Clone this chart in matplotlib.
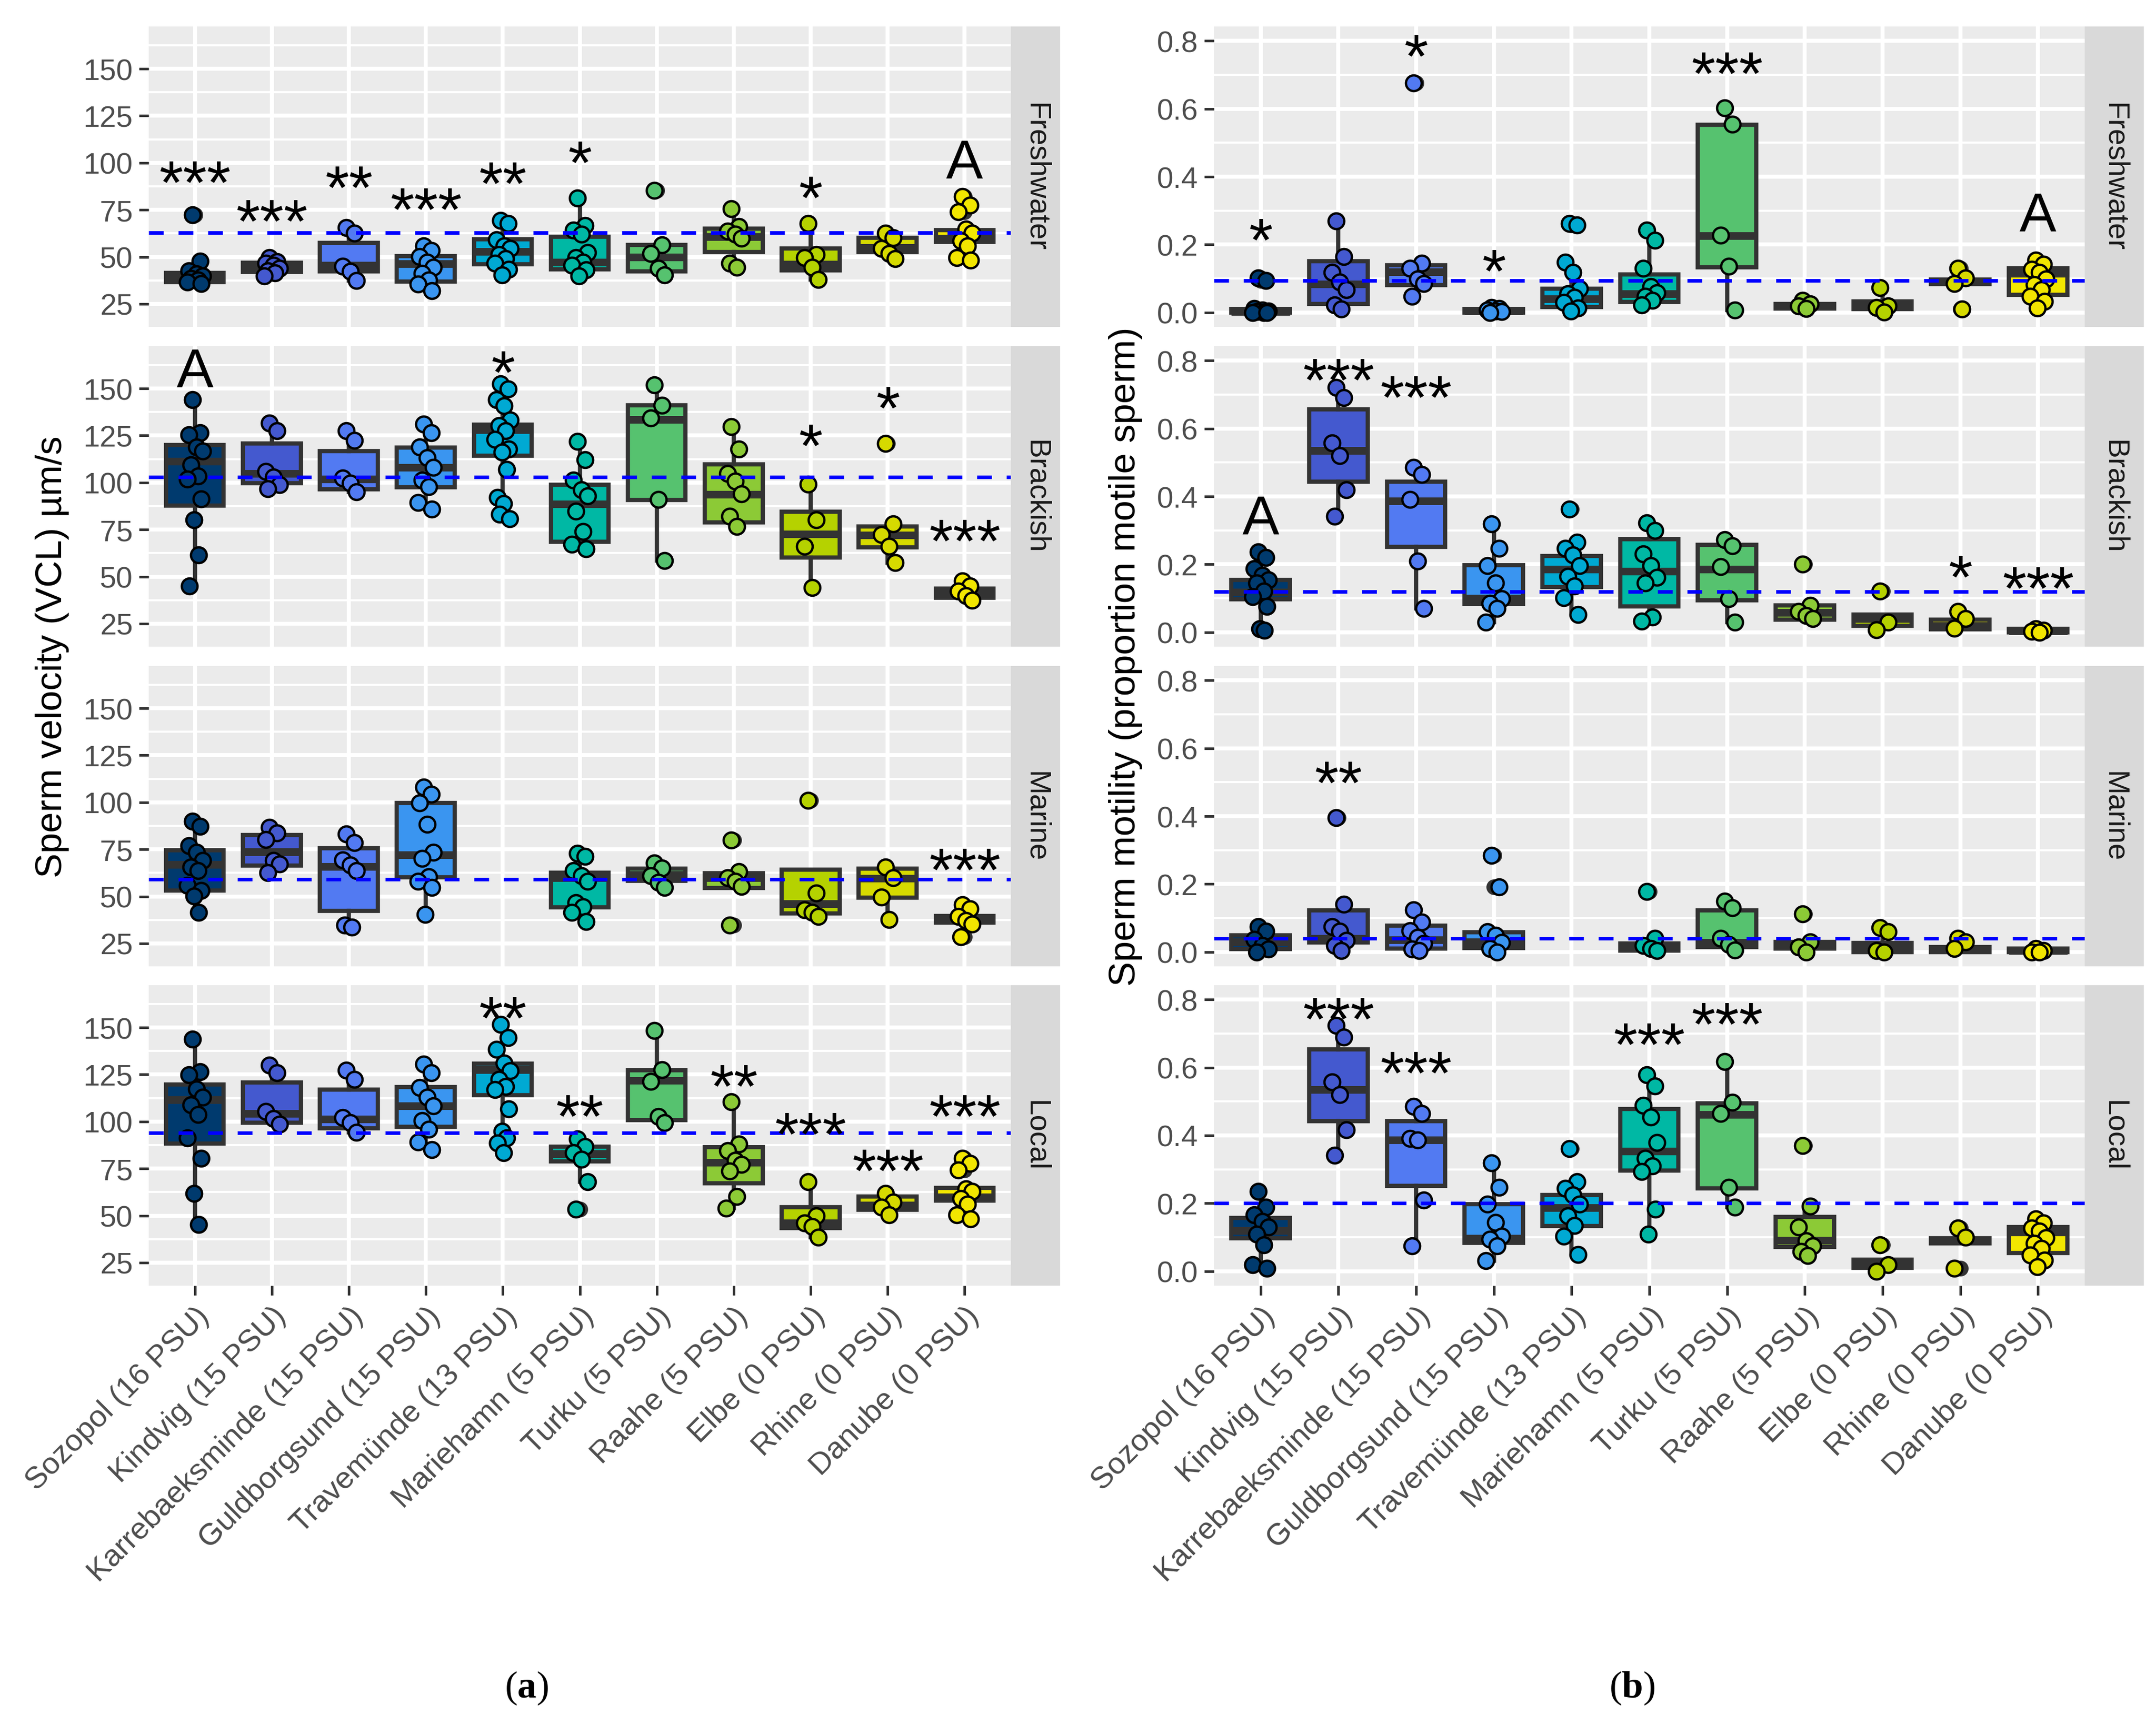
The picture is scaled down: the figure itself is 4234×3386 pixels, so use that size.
'''
Sperm velocity and motility per population, by test water (boxplots + points)
'''
import numpy as np
import matplotlib
matplotlib.use('Agg')
import matplotlib.pyplot as plt

plt.rcParams['font.family'] = ['Liberation Sans', 'DejaVu Sans']
plt.rcParams['mathtext.fontset'] = 'custom'
plt.rcParams['mathtext.rm'] = 'Liberation Serif'
plt.rcParams['mathtext.bf'] = 'Liberation Serif:bold'

populations = ['Sozopol (16 PSU)', 'Kindvig (15 PSU)', 'Karrebaeksminde (15 PSU)',
               'Guldborgsund (15 PSU)', 'Travemünde (13 PSU)', 'Mariehamn (5 PSU)',
               'Turku (5 PSU)', 'Raahe (5 PSU)', 'Elbe (0 PSU)', 'Rhine (0 PSU)',
               'Danube (0 PSU)']
water = ['Freshwater', 'Brackish', 'Marine', 'Local']
pop_colors = ['#003A6E', '#4459CF', '#527AF2', '#3A95F0', '#00A9D3', '#00B8A4',
              '#56C26F', '#8CCA36', '#B5D200', '#D6DA00', '#F2E600']

# ---- (a) sperm velocity: box stats (whislo, q1, med, q3, whishi) and points
vcl_fresh_box = [(35, 36.7, 38.5, 41.5, 48), (39.8, 42.1, 44.5, 46.8, 49.5),
                 (37.5, 42.3, 45.5, 57.4, 65.7), (31.9, 36.9, 46.4, 50.4, 55.8),
                 (40.4, 46.2, 52.9, 59.4, 69.4), (39.8, 43.5, 47.1, 60.8, 81.4),
                 (40.4, 42.3, 50, 56.3, 56.3), (44.5, 52.6, 60.8, 65.1, 75.7),
                 (38.1, 42.9, 46, 54.4, 67.7), (49, 52.6, 55, 60.1, 62.6),
                 (48.3, 58, 60, 64.3, 64.9)]
vcl_fresh_pts = [[72.3, 47.8, 42.7, 41, 39.8, 38.5, 37.6, 36.5, 35.9],
                 [49.5, 47.5, 46.7, 45.5, 43.8, 42.5, 41.5, 39.8],
                 [65.7, 62.6, 45, 42.3, 37.5],
                 [55.8, 53.5, 50.1, 47.3, 44.5, 41.1, 37.7, 35.5, 31.9],
                 [69.4, 67.7, 59.2, 55.8, 54.6, 51.2, 49, 46.7, 43.3, 40.4],
                 [81.4, 66.6, 64.3, 62, 52.4, 49.5, 47.2, 45.5, 43.2, 39.8],
                 [85.4, 56.3, 51.8, 43.8, 40.4],
                 [75.7, 66, 63.7, 62, 60, 46.7, 44.5],
                 [67.7, 51.2, 49.5, 44.5, 38.1],
                 [62.6, 60.3, 54.6, 51.8, 49],
                 [82, 77.4, 74, 64.9, 62.6, 58.6, 55.8, 49.5, 48.3]]
vcl_fresh_marks = [(0, '***', 97.3), (1, '***', 76.8), (2, '**', 94.5), (3, '***', 83),
                   (4, '**', 96.7), (5, '*', 108), (8, '*', 89.3), (10, 'A', 102.2)]

vcl_brack_box = [(45, 87.9, 111.4, 120.1, 144.1), (96.8, 99.6, 104.9, 120.8, 131.5),
                 (95, 96.4, 101.8, 116.8, 127.6), (86, 97.4, 108.2, 118.6, 131),
                 (80.8, 114.3, 128.1, 130.7, 152.6), (64.9, 68.5, 88.6, 98.8, 121.9),
                 (58.6, 90.7, 133.6, 141, 152), (76.8, 78.8, 93.7, 109.7, 129.8),
                 (44.1, 60.2, 72.6, 84.6, 99.1), (57.5, 65.7, 72.2, 76.6, 78),
                 (37.5, 38.9, 41, 43.6, 47.8)]
vcl_brack_pts = [[144.1, 126.4, 125.3, 119, 116.7, 109.3, 103.6, 101.9, 91.3, 80.3, 61.5, 45],
                 [131.5, 127.6, 105.9, 103, 99, 96.8],
                 [127.6, 122.4, 102.5, 99.6, 95],
                 [131, 126.4, 119, 113.3, 108.2, 101.3, 97.9, 89.4, 86],
                 [152.6, 149.8, 144.1, 140.7, 133.2, 130.4, 127.6, 123, 117.9, 116.2,
                  107, 92.2, 88.8, 83.1, 80.8],
                 [121.9, 112.2, 101.3, 96.2, 92.8, 84.8, 74, 67.2, 64.9],
                 [152, 141.2, 134.4, 91.1, 58.6],
                 [129.8, 117.9, 104.8, 100.8, 93.9, 82, 76.8],
                 [99.1, 80.3, 66, 44.1],
                 [120.7, 78, 72.3, 66, 57.5],
                 [47.8, 45, 42.2, 40, 37.5]]
vcl_brack_marks = [(0, 'A', 161.2), (4, '*', 166.3), (8, '*', 127.5), (9, '*', 147.5),
                   (10, '***', 76.8)]

vcl_marine_box = [(41.6, 53.2, 67, 74.4, 90), (62.7, 66.3, 73.8, 82.6, 86.6),
                  (33.7, 42.4, 65.9, 75.5, 83.2), (40.5, 60.1, 72.1, 99.8, 108.2),
                  None, (36.5, 44.1, 60, 62.7, 73),
                  (54.7, 58.4, 61.5, 64.7, 67.8), (54.6, 54.6, 59.8, 62.2, 63.2),
                  (39.3, 40.9, 46.2, 64.2, 64.2), (37.6, 49.3, 59.6, 64.7, 65.5),
                  (35.4, 36.2, 38, 39.6, 45.6)]
vcl_marine_pts = [[90, 87.2, 76.9, 73.5, 69, 65.5, 63.8, 55.9, 53, 50.2, 41.6],
                  [86.6, 83.7, 80.3, 69, 67.2, 62.7],
                  [83.2, 78.6, 69.5, 66.7, 63.8, 34.8, 33.7],
                  [108.2, 104.2, 99.7, 88.3, 73.5, 70.1, 60.4, 58.1, 54.7, 40.5],
                  [],
                  [73, 71.2, 63.8, 61, 58.1, 46.7, 44.5, 41.6, 36.5],
                  [67.8, 65, 61, 57.5, 54.7],
                  [79.8, 63.2, 59.8, 58, 55.3, 34.8],
                  [101, 51.9, 42.8, 41.6, 39.3],
                  [65.5, 59.8, 49.6, 37.6],
                  [45.6, 43.3, 39.3, 37.1, 35.4, 28.5]]
vcl_marine_marks = [(10, '***', 71.8)]

vcl_local_box = [(45.4, 88.4, 111.5, 119.7, 143.9), (98.7, 99.5, 104.4, 120.8, 129.9),
                 (94.2, 96.5, 101.2, 116.9, 127.3), (85.1, 97.3, 108.4, 118.4, 130.5),
                 (83.4, 114.0, 127.7, 130.8, 151.7), (68.1, 78.8, 82.8, 86.8, 90.8),
                 (99.3, 100.7, 121.8, 127.2, 148.3), (53.9, 67.2, 78.3, 86.4, 110.6),
                 (38.6, 43.4, 46, 54.5, 68.1), (50.5, 53.0, 55.5, 60.2, 61.9),
                 (48.3, 58.1, 60, 64.7, 64.7)]
vcl_local_pts = [[143.9, 126.5, 124.8, 117.4, 112.9, 108.9, 103.8, 91.4, 80.6, 61.9, 45.4],
                 [129.9, 126, 105.5, 101.6, 98.7],
                 [127.3, 122.5, 102.1, 99.3, 94.2],
                 [130.5, 126, 118, 112.9, 108.4, 100.4, 95.9, 89.1, 85.1],
                 [151.7, 144.7, 138.4, 131, 127.1, 122.5, 118.6, 116.9, 106.7, 94.8,
                  91.4, 88.5, 83.4],
                 [90.8, 86.8, 83.4, 80, 68.1, 53.4],
                 [148.3, 127.7, 121.4, 102.7, 99.3],
                 [110.6, 88, 84.5, 79.4, 77.2, 73.8, 60.2, 53.9],
                 [68.1, 50, 46, 44.3, 38.6],
                 [61.9, 57.3, 54.5, 50.5],
                 [80.6, 77.7, 74.3, 64.1, 63, 59, 56.2, 50.5, 48.3]]
vcl_local_marks = [(4, '**', 162.8), (5, '**', 110.6), (7, '**', 126.5), (8, '***', 101),
                   (9, '***', 81.7), (10, '***', 110.6)]

vcl_ref = [63, 103, 59, 94]

# ---- (b) sperm motility
mot_fresh_box = [(0.0, 0.0, 0.003, 0.01, 0.012), (0.011, 0.026, 0.084, 0.151, 0.269),
                 (0.048, 0.081, 0.12, 0.140, 0.146), (0.0, 0.0, 0.005, 0.01, 0.015),
                 (0.005, 0.017, 0.04, 0.070, 0.149), (0.023, 0.032, 0.055, 0.113, 0.243),
                 (0.008, 0.133, 0.226, 0.553, 0.602), (0.012, 0.012, 0.02, 0.026, 0.036),
                 (0.001, 0.011, 0.025, 0.033, 0.074), (0.084, 0.084, 0.09, 0.097, 0.102),
                 (0.014, 0.053, 0.115, 0.130, 0.155)]
mot_fresh_pts = [[0.102, 0.095, 0.012, 0.008, 0.005, 0.003, 0.0, 0.0, 0.0],
                 [0.269, 0.165, 0.118, 0.09, 0.067, 0.023, 0.011],
                 [0.675, 0.146, 0.13, 0.099, 0.085, 0.048],
                 [0.015, 0.012, 0.008, 0.005, 0.003, 0.0],
                 [0.262, 0.258, 0.149, 0.118, 0.07, 0.055, 0.045, 0.03, 0.014, 0.005],
                 [0.243, 0.212, 0.130, 0.077, 0.058, 0.048, 0.036, 0.023],
                 [0.602, 0.555, 0.228, 0.137, 0.008],
                 [0.036, 0.025, 0.02, 0.012],
                 [0.074, 0.02, 0.015, 0.001],
                 [0.13, 0.102, 0.086, 0.011],
                 [0.155, 0.143, 0.127, 0.118, 0.099, 0.083, 0.067, 0.048, 0.033, 0.014]]
mot_fresh_marks = [(0, '*', 0.256), (2, '*', 0.797), (3, '*', 0.165), (6, '***', 0.747),
                   (10, 'A', 0.297)]

mot_brack_box = [(0.006, 0.097, 0.118, 0.155, 0.237), (0.341, 0.443, 0.535, 0.656, 0.721),
                 (0.070, 0.251, 0.387, 0.443, 0.486), (0.030, 0.084, 0.10, 0.197, 0.319),
                 (0.052, 0.133, 0.186, 0.225, 0.265), (0.033, 0.077, 0.180, 0.274, 0.322),
                 (0.030, 0.095, 0.186, 0.258, 0.272), (0.037, 0.037, 0.058, 0.080, 0.08),
                 (0.007, 0.019, 0.04, 0.052, 0.052), (0.009, 0.009, 0.02, 0.038, 0.061),
                 (0.0, 0.0, 0.005, 0.01, 0.01)]
mot_brack_pts = [[0.237, 0.22, 0.187, 0.168, 0.155, 0.146, 0.121, 0.105, 0.077, 0.011, 0.006],
                 [0.721, 0.69, 0.558, 0.520, 0.419, 0.341],
                 [0.486, 0.464, 0.391, 0.209, 0.070],
                 [0.319, 0.247, 0.196, 0.146, 0.099, 0.086, 0.070, 0.030],
                 [0.363, 0.265, 0.247, 0.228, 0.196, 0.165, 0.137, 0.102, 0.052],
                 [0.322, 0.30, 0.231, 0.196, 0.162, 0.146, 0.045, 0.033],
                 [0.272, 0.255, 0.193, 0.099, 0.030],
                 [0.20, 0.08, 0.062, 0.05, 0.04],
                 [0.121, 0.03, 0.007],
                 [0.061, 0.04, 0.012],
                 [0.01, 0.006, 0.003, 0.0]]
mot_brack_marks = [(0, 'A', 0.347), (1, '***', 0.786), (2, '***', 0.734), (9, '*', 0.206),
                   (10, '***', 0.172)]

mot_marine_box = [(0.0, 0.009, 0.03, 0.049, 0.075), (0.005, 0.029, 0.04, 0.123, 0.141),
                  (0.005, 0.011, 0.036, 0.078, 0.125), (0.0, 0.012, 0.03, 0.058, 0.06),
                  None, (0.005, 0.005, 0.015, 0.025, 0.041),
                  (0.006, 0.015, 0.028, 0.123, 0.150), (0.0, 0.011, 0.02, 0.030, 0.03),
                  (0.0, 0.0, 0.015, 0.027, 0.072), (0.0, 0.0, 0.01, 0.015, 0.041),
                  (0.0, 0.0, 0.005, 0.01, 0.01)]
mot_marine_pts = [[0.075, 0.062, 0.037, 0.02, 0.009, 0.0],
                  [0.395, 0.141, 0.075, 0.062, 0.035, 0.019, 0.005],
                  [0.125, 0.088, 0.063, 0.044, 0.025, 0.009, 0.005],
                  [0.285, 0.191, 0.06, 0.05, 0.028, 0.01, 0.0],
                  [],
                  [0.178, 0.041, 0.02, 0.01, 0.005],
                  [0.150, 0.131, 0.041, 0.022, 0.006],
                  [0.113, 0.03, 0.015, 0.0],
                  [0.072, 0.06, 0.005, 0.0],
                  [0.041, 0.03, 0.01],
                  [0.01, 0.005, 0.0, 0.0]]
mot_marine_marks = [(1, '**', 0.542)]

mot_local_box = [(0.009, 0.098, 0.12, 0.157, 0.235), (0.341, 0.442, 0.535, 0.653, 0.724),
                 (0.075, 0.252, 0.386, 0.442, 0.485), (0.031, 0.084, 0.097, 0.197, 0.319),
                 (0.050, 0.133, 0.187, 0.224, 0.263), (0.110, 0.297, 0.353, 0.478, 0.579),
                 (0.188, 0.244, 0.461, 0.495, 0.617), (0.047, 0.072, 0.091, 0.160, 0.191),
                 (0.0, 0.010, 0.02, 0.034, 0.034), (0.083, 0.083, 0.09, 0.098, 0.10),
                 (0.014, 0.054, 0.115, 0.131, 0.155)]
mot_local_pts = [[0.235, 0.188, 0.166, 0.147, 0.131, 0.110, 0.078, 0.019, 0.009],
                 [0.724, 0.689, 0.558, 0.520, 0.417, 0.341],
                 [0.485, 0.464, 0.391, 0.386, 0.210, 0.075],
                 [0.319, 0.247, 0.197, 0.144, 0.103, 0.094, 0.075, 0.031],
                 [0.361, 0.263, 0.244, 0.224, 0.197, 0.163, 0.135, 0.103, 0.050],
                 [0.579, 0.545, 0.489, 0.454, 0.379, 0.332, 0.310, 0.294, 0.182, 0.110],
                 [0.617, 0.498, 0.464, 0.247, 0.188],
                 [0.370, 0.191, 0.131, 0.09, 0.075, 0.059, 0.047],
                 [0.078, 0.02, 0.0],
                 [0.128, 0.10, 0.009],
                 [0.155, 0.143, 0.127, 0.118, 0.099, 0.083, 0.067, 0.048, 0.033, 0.014]]
mot_local_marks = [(1, '***', 0.786), (2, '***', 0.626), (5, '***', 0.711), (6, '***', 0.771)]

mot_ref = [0.094, 0.12, 0.041, 0.2]

# ---- layout (pixels of the 4234 x 3387 output)
W, H = 4234, 3387
row_tops = [53, 681, 1309, 1936]
row_h = 590
jitter = [-0.03, 0.07, -0.08, 0.02, 0.10, -0.05, 0.04, -0.10, 0.08, -0.01, 0.05, -0.07,
          0.01, -0.04, 0.09, -0.09]

fig = plt.figure(figsize=(W / 300, H / 300), dpi=300)


def draw_facet(ax, boxes, points, marks, ref, ylim, yticks, minor, fmt):
    ax.set_facecolor('#EBEBEB')
    for s in ax.spines.values():
        s.set_visible(False)
    ax.set_xlim(-0.6, 10.6)
    ax.set_ylim(*ylim)
    ax.set_xticks(range(11))
    ax.set_yticks(yticks)
    ax.set_yticks(minor, minor=True)
    ax.set_yticklabels([fmt.format(t) for t in yticks])
    ax.grid(True, which='major', color='white', lw=1.85)
    ax.grid(True, which='minor', axis='y', color='white', lw=1.0)
    ax.set_axisbelow(True)
    ax.tick_params(axis='both', which='major', length=4.5, width=1.2, color='#333333',
                   labelcolor='#4D4D4D', labelsize=14, pad=3)
    ax.tick_params(axis='y', which='minor', length=0)

    for i, st in enumerate(boxes):
        if st is None:
            continue
        lo, q1, med, q3, hi = st
        stats = [dict(whislo=lo, q1=q1, med=med, q3=q3, whishi=hi, fliers=[])]
        ax.bxp(stats, positions=[i], widths=0.75, patch_artist=True, showcaps=False,
               showfliers=False, manage_ticks=False,
               boxprops=dict(facecolor=pop_colors[i], edgecolor='#333333', lw=2.0),
               medianprops=dict(color='#333333', lw=3.6, solid_capstyle='butt'),
               whiskerprops=dict(color='#333333', lw=2.0), zorder=2)
        out = [v for v in points[i] if v > hi + 1e-9 or v < lo - 1e-9]
        if out:
            ax.scatter([i] * len(out), out, s=55, color='#333333', lw=0, zorder=3)
    for i, pts in enumerate(points):
        if not pts:
            continue
        xs = [i + jitter[k % len(jitter)] for k in range(len(pts))]
        ax.scatter(xs, pts, s=55, facecolor=pop_colors[i], edgecolor='black', lw=1.1,
                   zorder=4)
    ax.axhline(ref, color='blue', lw=1.7, dashes=(4.1, 4.1), zorder=5)
    for i, lab, y in marks:
        fs = 26 if lab == 'A' else 29
        off = -0.36 * fs if lab == 'A' else -0.57 * fs
        ax.annotate(lab, (i, y), xytext=(0, off), textcoords='offset points',
                    ha='center', va='baseline', fontsize=fs, color='black', zorder=6)


panels = [
    dict(x0=292, x1=1985, sw=97,
         boxes=[vcl_fresh_box, vcl_brack_box, vcl_marine_box, vcl_local_box],
         pts=[vcl_fresh_pts, vcl_brack_pts, vcl_marine_pts, vcl_local_pts],
         marks=[vcl_fresh_marks, vcl_brack_marks, vcl_marine_marks, vcl_local_marks],
         ref=vcl_ref, ylim=(12.8, 172.5), yticks=[25, 50, 75, 100, 125, 150],
         minor=[37.5, 62.5, 87.5, 112.5, 137.5, 162.5], fmt='{:g}',
         ylabel='Sperm velocity (VCL) µm/s', ylab_x=103, cap_x=1034, capl='a'),
    dict(x0=2384, x1=4094, sw=116,
         boxes=[mot_fresh_box, mot_brack_box, mot_marine_box, mot_local_box],
         pts=[mot_fresh_pts, mot_brack_pts, mot_marine_pts, mot_local_pts],
         marks=[mot_fresh_marks, mot_brack_marks, mot_marine_marks, mot_local_marks],
         ref=mot_ref, ylim=(-0.042, 0.842), yticks=[0.0, 0.2, 0.4, 0.6, 0.8],
         minor=[0.1, 0.3, 0.5, 0.7], fmt='{:.1f}',
         ylabel='Sperm motility (proportion motile sperm)', ylab_x=2210,
         cap_x=3205, capl='b'),
]

for p in panels:
    for r in range(4):
        top = row_tops[r]
        rect = [p['x0'] / W, 1 - (top + row_h) / H, (p['x1'] - p['x0']) / W, row_h / H]
        ax = fig.add_axes(rect)
        draw_facet(ax, p['boxes'][r], p['pts'][r], p['marks'][r], p['ref'][r],
                   p['ylim'], p['yticks'], p['minor'], p['fmt'])
        if r == 3:
            ax.set_xticklabels(populations, rotation=45, ha='right', va='top',
                               rotation_mode='anchor', fontsize=14.5)
        else:
            ax.tick_params(axis='x', which='both', length=0, labelbottom=False)
        sax = fig.add_axes([p['x1'] / W, rect[1], p['sw'] / W, row_h / H])
        sax.set_facecolor('#D9D9D9')
        sax.set_xticks([])
        sax.set_yticks([])
        for s in sax.spines.values():
            s.set_visible(False)
        sax.text(0.5, 0.5, water[r], rotation=-90, ha='center', va='center',
                 fontsize=14, color='#1A1A1A', transform=sax.transAxes)
    fig.text(p['ylab_x'] / W, 1 - 1290 / H, p['ylabel'], rotation=90, ha='center',
             va='center', fontsize=17.5, color='black')
    fig.text(p['cap_x'] / W, 1 - 3316 / H, '($\\mathbf{' + p['capl'] + '}$)',
             ha='center', va='center', fontsize=18, family='Liberation Serif')

fig.savefig('out.png', dpi=300, facecolor='white')
